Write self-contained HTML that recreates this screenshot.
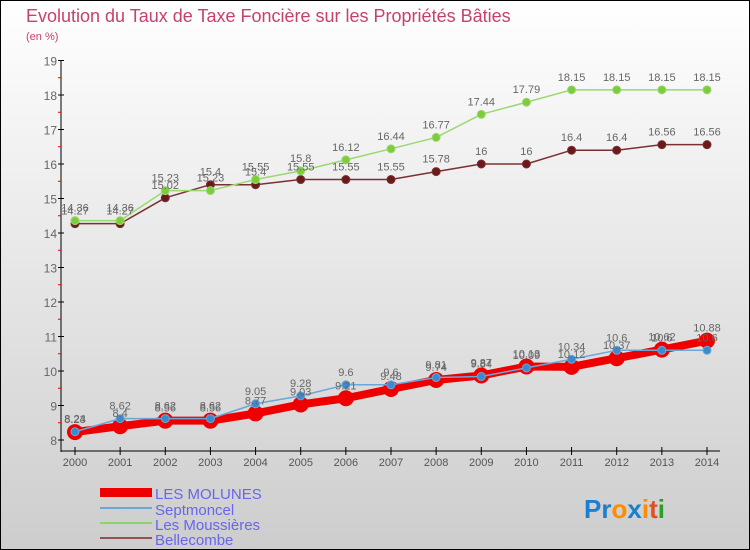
<!DOCTYPE html>
<html><head><meta charset="utf-8"><style>
body{margin:0;width:750px;height:550px;overflow:hidden;font-family:"Liberation Sans",sans-serif}
svg{display:block}
</style></head><body>
<svg id="chart" width="750" height="550" viewBox="0 0 750 550" xmlns="http://www.w3.org/2000/svg">
<defs><linearGradient id="bg" x1="0" y1="0" x2="0" y2="1"><stop offset="0" stop-color="#ffffff"/><stop offset="1" stop-color="#cdcdcd"/></linearGradient></defs>
<rect x="0.5" y="0.5" width="749" height="549" fill="url(#bg)" stroke="#000"/>
<text x="26" y="22" font-size="18" fill="#c8406e">Evolution du Taux de Taxe Foncière sur les Propriétés Bâties</text>
<text x="26" y="40" font-size="11" fill="#c8406e">(en %)</text>
<g id="axes"></g><g id="series"></g><g id="labels"></g>
<g font-size="15" fill="#6666ee">
<rect x="100" y="488" width="52" height="9" fill="#e00"/>
<text x="155" y="499">LES MOLUNES</text>
<rect x="100" y="507" width="52" height="2" fill="#6aa6d6"/>
<text x="155" y="515">Septmoncel</text>
<rect x="100" y="522" width="52" height="2" fill="#8fd46a"/>
<text x="155" y="530">Les Moussières</text>
<rect x="100" y="537" width="52" height="2" fill="#8b5555"/>
<text x="155" y="545">Bellecombe</text>
</g>
<g font-size="26" font-weight="bold">
<text x="584" y="518"><tspan fill="#1a7fd0">Pr</tspan><tspan fill="#ff8c00">o</tspan><tspan fill="#1a7fd0">x</tspan><tspan fill="#ff8c00">i</tspan><tspan fill="#e05020">t</tspan><tspan fill="#2aa02a">i</tspan></text>
</g>
</svg>
<script>
const years=[2000,2001,2002,2003,2004,2005,2006,2007,2008,2009,2010,2011,2012,2013,2014];
const yTicks=[8,9,10,11,12,13,14,15,16,17,18,19];
const molunes=[8.23,8.4,8.56,8.56,8.77,9.03,9.21,9.48,9.74,9.87,10.13,10.12,10.37,10.62,10.88];
const septmoncel=[8.24,8.62,8.62,8.62,9.05,9.28,9.6,9.6,9.81,9.84,10.09,10.34,10.6,10.6,10.6];
const moussieres=[14.36,14.36,15.23,15.23,15.55,15.8,16.12,16.44,16.77,17.44,17.79,18.15,18.15,18.15,18.15];
const bellecombe=[14.27,14.27,15.02,15.4,15.4,15.55,15.55,15.55,15.78,16,16,16.4,16.4,16.56,16.56];
const NS="http://www.w3.org/2000/svg";
const x=i=>75+i*(707-75)/(years.length-1);
const y=v=>440-(v-8)*34.5;
function mk(tag,attrs,parent){const e=document.createElementNS(NS,tag);for(const k in attrs)e.setAttribute(k,attrs[k]);parent.appendChild(e);return e;}
const axes=document.getElementById('axes'),ser=document.getElementById('series'),lab=document.getElementById('labels');
let yl=mk('line',{x1:61,y1:y(19),x2:61,y2:452,stroke:'#000'},axes);


let xl=mk('line',{x1:61,y1:451,x2:720,y2:451,stroke:'#000'},axes);


yTicks.forEach(v=>{
  mk('line',{x1:58,y1:y(v),x2:64,y2:y(v),stroke:'#000'},axes);
  if(v<19)mk('line',{x1:58,y1:y(v+0.5),x2:61,y2:y(v+0.5),stroke:'#e00'},axes);
  const t=mk('text',{x:57,y:y(v)+5,'font-size':12,fill:'#666','text-anchor':'end'},axes);
  
  
  t.textContent=v;
});
years.forEach((yr,i)=>{
  mk('line',{x1:x(i),y1:447,x2:x(i),y2:455,stroke:'#000'},axes);
  const t=mk('text',{x:x(i),y:466,'font-size':11,fill:'#555','text-anchor':'middle'},axes);
  
  
  t.textContent=yr;
});
function series(name,vals,color,w,r,fill){
  const g=mk('g',{},ser);
  
  
  const p=mk('polyline',{points:vals.map((v,i)=>x(i)+','+y(v)).join(' '),fill:'none',stroke:color,'stroke-width':w,'stroke-linejoin':'round'},g);
  
  
  vals.forEach((v,i)=>{
    const c=mk('circle',{cx:x(i),cy:y(v),r:r,fill:fill,stroke:color,'stroke-width':1},g);
    
    
    const t=mk('text',{x:x(i),y:y(v)-9,'font-size':11,fill:'#666','text-anchor':'middle'},lab);
    
    
    t.textContent=v;
  });
}
series('bellecombe',bellecombe,'#7a3030',1.5,4,'#6a1a1a');
series('les-moussieres',moussieres,'#9ad870',1.5,4,'#7ccc3c');
series('les-molunes',molunes,'#ee0000',8,7.5,'#ee0000');
series('septmoncel',septmoncel,'#6aa6d6',1.5,4,'#3a8ad0');
</script>
</body></html>
